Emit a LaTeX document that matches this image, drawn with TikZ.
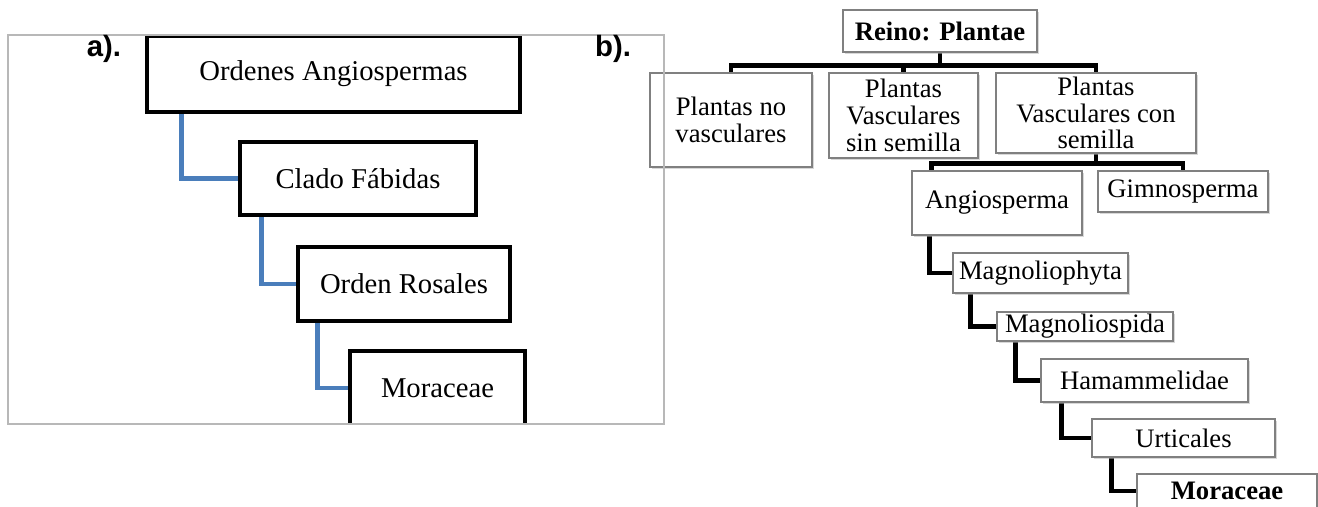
\documentclass[tikz,border=0pt]{standalone}
\usepackage{fontspec}
\setmainfont{Liberation Serif}
\newfontfamily\tagfont{Liberation Sans}
\usetikzlibrary{calc,shadows,backgrounds}
\definecolor{linkblue}{RGB}{74,126,187}

\begin{document}
\begin{tikzpicture}[
    x=0.75pt, y=-0.75pt,
    dims/.style 2 args={minimum width=#1*0.75pt, minimum height=#2*0.75pt},
    boxa/.style={rectangle, draw=black, line width=3.5pt, fill=white, inner sep=0pt, align=center, font=\fontsize{21.5}{24}\selectfont},
    boxb/.style={rectangle, draw=black!50, line width=0.9pt, fill=white, inner sep=0pt, align=center, font=\fontsize{20}{20}\selectfont,
        drop shadow={shadow xshift=1.5pt, shadow yshift=-1.8pt, fill=black!30}},
    linka/.style={draw=linkblue, line width=3.5pt},
    linkb/.style={draw=black, line width=3.4pt},
    tag/.style={font=\tagfont\bfseries\fontsize{22}{24}\selectfont}
]
    \useasboundingbox (0,0) rectangle (1318,507);

    % Nodes (a)
    \begin{scope}
        \clip (8,35) rectangle (664,424);
        \node[boxa, dims={373}{76}] (ord) at (333.5,74) {Ordenes Angiospermas};
        \node[boxa, dims={236}{73}] (cla) at (358,178.5) {Clado Fábidas};
        \node[boxa, dims={212}{74}] (ros) at (404,284) {Orden Rosales};
        \node[boxa, dims={175}{74}] (mora) at (437.5,388) {Moraceae};
    \end{scope}

    % Nodes (b)
    \node[boxb, dims={194}{42}] (reino) at (940,31) {\textbf{Reino: Plantae}};
    \node[boxb, dims={162}{94}] (novasc) at (731,120) {Plantas no\\vasculares};
    \node[boxb, dims={149}{85}] (sinsem) at (903.5,115.5) {Plantas\\Vasculares\\sin semilla};
    \node[boxb, dims={200}{80}] (consem) at (1096,113) {Plantas\\Vasculares con\\semilla};
    \node[boxb, dims={170}{64}] (angio) at (997,203) {Angiosperma};
    \node[boxb, dims={170}{41}] (gimno) at (1183,191.5) {Gimnosperma};
    \node[boxb, dims={175}{40}] (mgph) at (1040.5,273) {Magnoliophyta};
    \node[boxb, dims={176}{29}] (mgsp) at (1085,326.5) {Magnoliospida};
    \node[boxb, dims={207}{43}] (hama) at (1144.5,380.5) {Hamammelidae};
    \node[boxb, dims={183}{38}] (urti) at (1183.5,438) {Urticales};
    \node[boxb, dims={180}{34}] (morb) at (1227,491) {\textbf{Moraceae}};

    % Edges
    \begin{scope}[on background layer]
        \draw[linka] ($(ord.south west)+(37,0)$) |- (cla.west);
        \draw[linka] ($(cla.south west)+(24,0)$) |- (ros.west);
        \draw[linka] ($(ros.south west)+(22,0)$) |- (mora.west);

        \draw[linkb] (reino.south) -- ++(0,13) coordinate (top);
        \draw[linkb] (top) -| (novasc.north);
        \draw[linkb] (top) -| (sinsem.north);
        \draw[linkb] (top) -| (consem.north);
        \draw[linkb] (consem.south) -- ++(0,10) coordinate (mid);
        \draw[linkb] (mid) -| ($(angio.north west)+(20,0)$);
        \draw[linkb] (mid) -| (gimno.north);
        \draw[linkb] ($(angio.south west)+(18,0)$) |- (mgph.west);
        \draw[linkb] ($(mgph.south west)+(18,0)$) |- (mgsp.west);
        \draw[linkb] ($(mgsp.south west)+(19,0)$) |- (hama.west);
        \draw[linkb] ($(hama.south west)+(21,0)$) |- (urti.west);
        \draw[linkb] ($(urti.south west)+(20,0)$) |- (morb.west);
    \end{scope}

    % Frame of (a)
    \draw[black!28, line width=1pt] (8,35) rectangle (664,424);

    % Labels
    \node[tag] (taga) at (104,49) {a).};
    \node[tag] (tagb) at (613,49) {b).};
\end{tikzpicture}
\end{document}
